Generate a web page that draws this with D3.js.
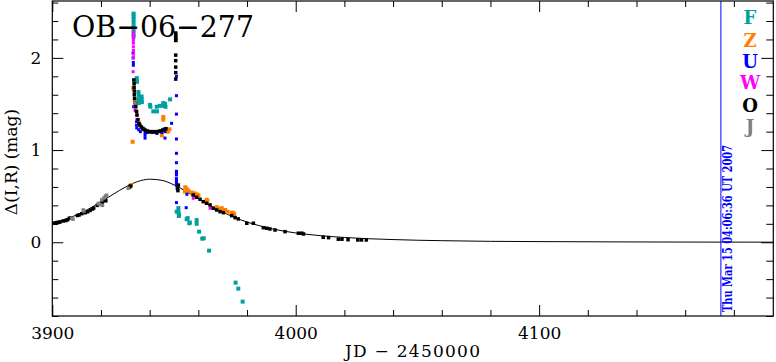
<!DOCTYPE html>
<html><head><meta charset="utf-8">
<script src="https://cdn.jsdelivr.net/npm/d3@7"></script>
<style>body{margin:0;background:#fff}svg{display:block}text{font-family:"DejaVu Serif",serif}</style>
</head><body><svg id="c" width="776" height="362"></svg>
<script>
const title = "OB−06−277";
const xLabel = "JD − 2450000";
const yLabel = "Δ(I,R) (mag)";
const dateStamp = "Thu Mar 15 04:06:36 UT 2007";
const stampT = 4174.67;
const xDomain = [3900, 4196.2];
const yDomain = [-0.8, 2.617];
const xMajorTicks = [3900, 4000, 4100];
const yMajorTicks = [0, 1, 2];
const legendLabels = ["F", "Z", "U", "W", "O", "J"];
const legendColors = ["#00a0a0", "#ff8000", "#0000ff", "#ff00ff", "#000000", "#808080"];

// model curve
const modelT = [3900,3905,3910,3915,3920,3925,3930,3935,3940,3945,3950,3955,3960,3965,3970,3975,3980,3985,3990,3995,4000,4010,4020,4030,4040,4050,4060,4080,4100,4130,4160,4196.2];
const modelM = [0.207,0.247,0.296,0.361,0.440,0.520,0.598,0.658,0.684,0.672,0.622,0.552,0.472,0.395,0.327,0.268,0.219,0.180,0.147,0.121,0.101,0.072,0.052,0.038,0.029,0.022,0.017,0.010,0.007,0.004,0.002,0.001];

// F (teal)
const tF = [3933.4,3933.4,3933.4,3933.4,3933.4,3933.4,3933.4,3933.4,3934.7,3934.8,3935.4,3935.5,3935.5,3935.5,3936.7,3936.7,3936.8,3940.1,3940.3,3941.5,3942.9,3943.0,3944.2,3945.6,3945.7,3946.3,3946.5,3948.4,
  3951.1,3951.8,3951.8,3952.0,3952.0,3955.2,3955.6,3956.3,3956.5,3959.3,3959.3,3960.3,3961.6,3962.2,3964.4,3975.3,3976.4,3978.2];
const mF = [2.48,2.45,2.42,2.38,2.34,2.30,2.26,2.23,1.78,1.74,1.63,1.59,1.55,1.51,1.58,1.55,1.52,1.49,1.47,1.42,1.47,1.42,1.48,1.51,1.48,1.50,1.47,1.55,
  0.332,0.37,0.33,0.30,0.285,0.25,0.262,0.206,0.215,0.24,0.20,0.115,0.039,0.043,-0.091,-0.438,-0.503,-0.644];

// Z (orange)
const tZ = [3931.6,3931.9,3932.3,3933.0,3933.3,3933.9,3945.6,3945.6,3945.0,3947.5,3948.1,3950.8,3954.5,3954.6,3955.2,3955.9,3957.3,3957.7,3958.5,3959.3,3960.0,3963.4,3963.7,3967.5,3967.5,3968.9,3969.6,3969.6,3970.3,3971.0,3972.0,3973.7,3974.1,3974.7];
const mZ = [0.60,0.61,0.62,1.09,1.67,1.54,1.36,1.33,1.16,1.20,1.225,2.19,0.55,0.597,0.58,0.56,0.54,0.52,0.53,0.52,0.51,0.46,0.45,0.38,0.369,0.36,0.37,0.35,0.34,0.35,0.33,0.32,0.32,0.307];

// U (blue)
const tU = [3933.2,3933.2,3933.3,3933.3,3933.4,3934.6,3934.6,3934.7,3935.5,3936.2,3938.1,3938.1,3938.1,3939.0,3941.0,3943.0,3945.0,3946.3,3946.3,3949.0,
  3951.0,3951.0,3951.0,3951.0,3951.0,3951.0,3951.0,3951.0,3951.0,3951.0,3951.0,3951.0,3951.0,3951.0,3955.3,3955.0];
const mU = [2.05,2.00,1.95,1.92,1.47,1.31,1.27,1.24,1.22,1.20,1.19,1.16,1.13,1.19,1.19,1.18,1.19,1.20,1.13,1.29,
  1.80,1.59,1.39,1.12,0.965,0.863,0.77,0.75,0.73,0.69,0.665,0.64,0.62,0.43,0.52,0.375];

// W (magenta)
const tW = [3933.3,3933.3,3933.3,3933.3,3933.3,3933.3,3933.3,3933.3,3933.3,3933.2,3934.0,3934.0,3934.0,3934.7,3934.7,3935.5,3936.5,3941.0,3957.9,3964.8];
const mW = [2.28,2.25,2.22,2.19,2.16,2.12,2.08,2.04,2.00,1.85,1.51,1.47,1.43,1.38,1.33,1.29,1.24,1.19,0.477,0.369];

// O (black)
const tO = [3900.4,3901.2,3901.8,3902.5,3903.2,3904.5,3905.6,3906.3,3907.0,3907.6,3910.3,3911.0,3912.1,3913.5,3914.5,3915.5,3916.4,3917.0,3918.5,3919.5,3920.5,3921.0,3922.0,3931.7,3932.2,
  3933.5,3933.6,3933.6,3933.7,3933.7,3933.8,3934.1,3934.3,3934.6,3934.8,3935.2,3935.6,3936.0,3936.6,3937.2,3937.6,3938.3,3939.0,3939.7,3940.4,3941.1,3941.8,3942.5,3943.2,3944.0,3944.7,3945.4,3946.0,3946.7,
  3950.7,3950.7,3950.7,3950.7,3950.7,3950.7,3950.7,3950.7,3950.7,3950.7,
  3951.4,3951.6,3951.8,3957.9,3959.3,3960.7,3962.0,3963.4,3964.8,3966.1,3967.5,3968.9,3970.3,3973.7,3975.1,3976.4,3979.9,3982.6,3986.7,3988.1,3989.4,3991.5,3995.6,4001.1,4002.5,4003.2,4011.3,4013.5,4017.5,4019.0,4021.5,4025.5,4027.0,4029.0];
const mO = [0.206,0.208,0.213,0.216,0.22,0.231,0.236,0.245,0.26,0.262,0.29,0.296,0.31,0.32,0.33,0.345,0.36,0.37,0.40,0.42,0.43,0.45,0.45,0.60,0.61,
  1.76,1.72,1.68,1.64,1.60,1.56,1.51,1.47,1.42,1.38,1.33,1.29,1.27,1.25,1.235,1.225,1.215,1.207,1.20,1.20,1.198,1.20,1.195,1.20,1.205,1.21,1.218,1.225,1.232,
  2.27,2.25,2.23,2.21,2.19,2.03,1.97,1.90,1.84,1.77,
  0.585,0.56,0.62,0.513,0.488,0.466,0.44,0.423,0.405,0.369,0.35,0.332,0.321,0.289,0.267,0.253,0.206,0.206,0.158,0.152,0.144,0.133,0.115,0.098,0.098,0.09,0.054,0.05,0.033,0.033,0.028,0.025,0.025,0.025];

// J (gray)
const tJ = [3908.0,3908.5,3912.7,3913.0,3918.9,3919.5,3920.3,3920.6,3921.2,3921.8,3922.3,3931.2,3934.0];
const mJ = [0.26,0.25,0.35,0.34,0.42,0.41,0.46,0.40,0.48,0.50,0.51,0.586,1.51];

const svg = d3.select("#c");
const L = 52.3, R = 773.3, T = 1, B = 316;
const x = d3.scaleLinear().domain(xDomain).range([L, R]);
const y = d3.scaleLinear().domain(yDomain).range([B, T]);

svg.append("defs").append("clipPath").attr("id", "clip")
  .append("rect").attr("x", L).attr("y", T).attr("width", R - L).attr("height", B - T);

const plot = svg.append("g").attr("clip-path", "url(#clip)");

// model
const model = modelT.map((t, i) => [t, modelM[i]]);
plot.append("path").datum(model)
  .attr("fill", "none").attr("stroke", "#000").attr("stroke-width", 1)
  .attr("d", d3.line().x(d => x(d[0])).y(d => y(d[1])).curve(d3.curveMonotoneX));

// stamp line
plot.append("line").attr("x1", x(stampT)).attr("x2", x(stampT)).attr("y1", T).attr("y2", B)
  .attr("stroke", "#0000ff").attr("stroke-width", 1);

const series = [
  {t: tF, m: mF, c: legendColors[0], s: 4},
  {t: tZ, m: mZ, c: legendColors[1], s: 4},
  {t: tU, m: mU, c: legendColors[2], s: 3},
  {t: tW, m: mW, c: legendColors[3], s: 3},
  {t: tO, m: mO, c: legendColors[4], s: 3.5},
  {t: tJ, m: mJ, c: legendColors[5], s: 3.5}
];
series.forEach(sr => {
  plot.append("g").selectAll("rect").data(sr.t.map((t, i) => [t, sr.m[i]])).join("rect")
    .attr("x", d => x(d[0]) - sr.s / 2).attr("y", d => y(d[1]) - sr.s / 2)
    .attr("width", sr.s).attr("height", sr.s).attr("fill", sr.c);
});

// axes
const xMinor = d3.range(3900, xDomain[1], 20).filter(v => v % 100 !== 0);
const yMinor = d3.range(-0.8, 2.61, 0.2).map(v => +v.toFixed(1)).filter(v => Math.abs(v % 1) > 1e-6);
function styleAxis(g) {
  g.select(".domain").remove();
  g.selectAll(".tick line").attr("stroke", "#000").attr("stroke-width", 1);
  g.selectAll("text").attr("font-family", "DejaVu Serif").attr("font-size", 17).attr("fill", "#000");
}
svg.append("g").attr("transform", `translate(0,${B})`)
  .call(d3.axisBottom(x).tickValues(xMajorTicks).tickSize(-11).tickSizeOuter(0).tickPadding(11).tickFormat(d3.format("d"))).call(styleAxis);
svg.append("g").attr("transform", `translate(0,${B})`)
  .call(d3.axisBottom(x).tickValues(xMinor).tickSize(-6).tickSizeOuter(0).tickFormat("")).call(styleAxis);
svg.append("g").attr("transform", `translate(0,${T})`)
  .call(d3.axisTop(x).tickValues(xMajorTicks).tickSize(-11).tickSizeOuter(0).tickFormat("")).call(styleAxis);
svg.append("g").attr("transform", `translate(0,${T})`)
  .call(d3.axisTop(x).tickValues(xMinor).tickSize(-6).tickSizeOuter(0).tickFormat("")).call(styleAxis);
svg.append("g").attr("transform", `translate(${L},0)`)
  .call(d3.axisLeft(y).tickValues(yMajorTicks).tickSize(-11).tickSizeOuter(0).tickPadding(11).tickFormat(d3.format("d"))).call(styleAxis);
svg.append("g").attr("transform", `translate(${L},0)`)
  .call(d3.axisLeft(y).tickValues(yMinor).tickSize(-6).tickSizeOuter(0).tickFormat("")).call(styleAxis);
svg.append("g").attr("transform", `translate(${R},0)`)
  .call(d3.axisRight(y).tickValues(yMajorTicks).tickSize(-12).tickSizeOuter(0).tickFormat("")).call(styleAxis);
svg.append("g").attr("transform", `translate(${R},0)`)
  .call(d3.axisRight(y).tickValues(yMinor).tickSize(-7).tickSizeOuter(0).tickFormat("")).call(styleAxis);

// frame
svg.append("rect").attr("x", L).attr("y", T).attr("width", R - L).attr("height", B - T)
  .attr("fill", "none").attr("stroke", "#000").attr("stroke-width", 1.2);

// title
svg.append("text").attr("x", 72).attr("y", 36.5).attr("font-size", 30)
  .attr("textLength", 182).attr("lengthAdjust", "spacingAndGlyphs").text(title);

// axis labels
svg.append("text").attr("x", 412.5).attr("y", 357).attr("text-anchor", "middle").attr("font-size", 17)
  .attr("textLength", 135).attr("lengthAdjust", "spacing").text(xLabel);
svg.append("text").attr("transform", "translate(17,162) rotate(-90)").attr("text-anchor", "middle")
  .attr("font-size", 17).text(yLabel);

// legend
const legendY = [24, 47, 68, 89, 112, 133];
svg.append("g").selectAll("text").data(legendLabels).join("text")
  .attr("x", 750).attr("y", (d, i) => legendY[i]).attr("text-anchor", "middle")
  .attr("font-size", 18).attr("font-weight", "bold").attr("fill", (d, i) => legendColors[i]).text(d => d);

// date stamp
svg.append("text").attr("transform", "translate(731.5,312) rotate(-90)")
  .attr("font-size", 12).attr("font-weight", "bold").attr("fill", "#0000ff")
  .attr("textLength", 167).attr("lengthAdjust", "spacingAndGlyphs").text(dateStamp);
</script></body></html>
